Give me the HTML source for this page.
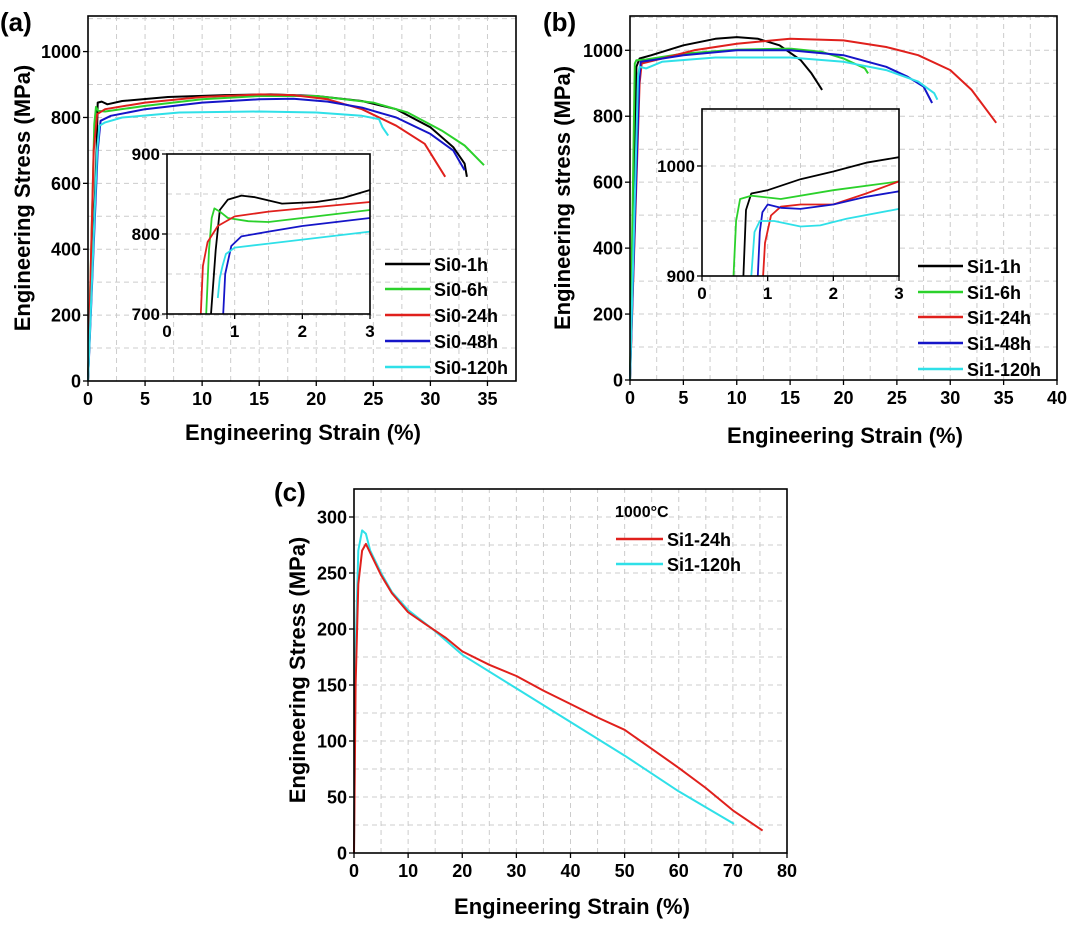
<!DOCTYPE html>
<html><head><meta charset="utf-8"><style>
body{margin:0;background:#fff}
svg{display:block;font-family:"Liberation Sans",Arial,sans-serif;font-weight:bold}
</style></head><body>
<svg id="s" width="1080" height="925" viewBox="0 0 1080 925" xmlns="http://www.w3.org/2000/svg">
<text x="0" y="31" font-size="26">(a)</text>
<text x="543" y="31" font-size="26">(b)</text>
<text x="274" y="501" font-size="26">(c)</text>
<text transform="translate(30,198) rotate(-90)" font-size="22" text-anchor="middle">Engineering Stress (MPa)</text>
<text x="303" y="440" font-size="22" text-anchor="middle">Engineering Strain (%)</text>
<text transform="translate(570,198) rotate(-90)" font-size="22" text-anchor="middle">Engineering stress (MPa)</text>
<text x="845" y="443" font-size="22" text-anchor="middle">Engineering Strain (%)</text>
<text transform="translate(305,670) rotate(-90)" font-size="22" text-anchor="middle">Engineering Stress (MPa)</text>
<text x="572" y="914" font-size="22" text-anchor="middle">Engineering Strain (%)</text>
</svg>
<script>
var S=document.getElementById('s'),NS='http://www.w3.org/2000/svg';
function el(t,a,txt){var e=document.createElementNS(NS,t);for(var k in a)e.setAttribute(k,a[k]);if(txt!=null)e.textContent=txt;S.appendChild(e);return e;}
function panel(p){
 var X=function(v){return p.x0+(v-p.xmin)*(p.x1-p.x0)/(p.xmax-p.xmin)};
 var Y=function(v){return p.y0-(v-p.ymin)*(p.y0-p.y1)/(p.ymax-p.ymin)};
 if(p.bg)el('rect',{x:p.x0,y:p.y1,width:p.x1-p.x0,height:p.y0-p.y1,fill:'#fff'});
 for(var g=p.xmin+p.gx;g<p.xmax-1e-9;g+=p.gx)el('line',{x1:X(g),x2:X(g),y1:p.y0,y2:p.y1,stroke:'#ccc','stroke-width':1,'stroke-dasharray':'5,4'});
 for(var g=p.ymin+p.gy;g<p.ymax-1e-9;g+=p.gy)el('line',{y1:Y(g),y2:Y(g),x1:p.x0,x2:p.x1,stroke:'#ccc','stroke-width':1,'stroke-dasharray':'5,4'});
 p.series.forEach(function(s){var d='';s[1].forEach(function(q,i){d+=(i?'L':'M')+X(q[0]).toFixed(1)+','+Y(q[1]).toFixed(1)});
  el('path',{d:d,fill:'none',stroke:s[0],'stroke-width':p.lw||2,'stroke-linejoin':'round'});});
 el('rect',{x:p.x0,y:p.y1,width:p.x1-p.x0,height:p.y0-p.y1,fill:'none',stroke:'#000','stroke-width':1.6});
 var fs=p.fs||18;
 p.xt.forEach(function(v){el('line',{x1:X(v),x2:X(v),y1:p.y0,y2:p.y0+5,stroke:'#000','stroke-width':1.3});el('text',{x:X(v),y:p.y0+fs+6,'font-size':fs,'text-anchor':'middle'},v)});
 p.yt.forEach(function(v){el('line',{x1:p.x0-5,x2:p.x0,y1:Y(v),y2:Y(v),stroke:'#000','stroke-width':1.3});el('text',{x:p.x0-7,y:Y(v)+fs*0.36,'font-size':fs,'text-anchor':'end'},v)});
}
var K='#000',G='#2bd12b',R='#e0201c',B='#1515c8',C='#2fe0e8';
panel({x0:88,x1:516,y0:381,y1:16,xmin:0,xmax:37.5,ymin:0,ymax:1108,gx:2.5,gy:100,xt:[0,5,10,15,20,25,30,35],yt:[0,200,400,600,800,1000],series:[
[K,[[0,0],[0.75,700],[0.85,845],[1.2,848],[1.7,840],[3,850],[7,862],[12,868],[16,870],[20,865],[24,850],[27,825],[30,770],[32,710],[33,660],[33.2,620]]],
[G,[[0,0],[0.55,780],[0.7,832],[0.9,820],[1.5,818],[5,835],[10,855],[15,865],[20,865],[25,845],[28,815],[31,760],[33,715],[34.7,655]]],
[R,[[0,0],[0.5,700],[0.8,810],[1.5,825],[5,845],[10,862],[15,870],[18,868],[21,855],[24,825],[27,775],[29.5,720],[31.3,620]]],
[B,[[0,0],[0.85,700],[1.1,790],[2,805],[5,825],[10,845],[15,855],[18,857],[21,848],[24,830],[27,800],[30,750],[32,700],[33,640]]],
[C,[[0,0],[0.8,700],[1,775],[1.5,785],[3,800],[8,815],[15,818],[20,815],[24,805],[25.5,795],[25.8,770],[26.3,745]]]]});
panel({bg:1,x0:167,x1:370,y0:314,y1:154,xmin:0,xmax:3,ymin:700,ymax:900,gx:0.5,gy:50,lw:1.8,fs:17,xt:[0,1,2,3],yt:[700,800,900],series:[
[K,[[0.65,700],[0.72,780],[0.78,830],[0.9,843],[1.1,848],[1.3,846],[1.7,838],[2.2,840],[2.6,845],[3,855]]],
[G,[[0.58,700],[0.62,780],[0.66,820],[0.7,832],[0.78,828],[0.9,820],[1.2,816],[1.5,815],[2,820],[3,830]]],
[R,[[0.5,700],[0.53,760],[0.6,790],[0.75,810],[1,822],[1.5,828],[2,832],[3,840]]],
[B,[[0.83,700],[0.86,750],[0.95,785],[1.1,797],[1.5,803],[2,810],[3,820]]],
[C,[[0.75,720],[0.78,745],[0.82,760],[0.87,775],[1,783],[1.5,788],[2,793],[3,803]]]]});
panel({x0:630,x1:1057,y0:380,y1:16,xmin:0,xmax:40,ymin:0,ymax:1104,gx:2.5,gy:100,xt:[0,5,10,15,20,25,30,35,40],yt:[0,200,400,600,800,1000],series:[
[K,[[0,0],[0.6,950],[0.9,975],[2,985],[5,1015],[8,1035],[10,1040],[12,1035],[14,1015],[16,970],[17,930],[18,880]]],
[G,[[0,0],[0.45,960],[0.6,970],[1.5,972],[5,990],[10,1002],[15,1005],[18,995],[20,975],[22,945],[22.3,930]]],
[R,[[0,0],[0.9,900],[1.1,960],[3,975],[6,1000],[10,1020],[15,1035],[20,1030],[24,1010],[27,985],[30,940],[32,880],[34.3,780]]],
[B,[[0,0],[0.85,900],[1,965],[2,970],[5,985],[10,1000],[15,1000],[20,985],[24,950],[26,920],[27.5,890],[28.3,840]]],
[C,[[0,0],[0.75,920],[0.9,950],[1.5,945],[3,965],[8,978],[15,978],[20,965],[24,940],[27,905],[28.5,870],[28.8,850]]]]});
panel({bg:1,x0:702,x1:899,y0:276,y1:109,xmin:0,xmax:3,ymin:900,ymax:1051.8,gx:0.5,gy:50,lw:1.8,fs:17,xt:[0,1,2,3],yt:[900,1000],series:[
[K,[[0.63,900],[0.67,960],[0.75,975],[1,978],[1.5,988],[2,995],[2.5,1003],[3,1008]]],
[G,[[0.48,900],[0.52,950],[0.58,970],[0.75,973],[1.2,970],[2,978],[3,986]]],
[R,[[0.93,900],[0.96,930],[1.05,955],[1.2,963],[1.5,965],[2,965],[2.5,975],[3,986]]],
[B,[[0.85,900],[0.88,940],[0.92,958],[1,965],[1.2,962],[1.5,961],[2,965],[2.5,972],[3,977]]],
[C,[[0.75,900],[0.8,940],[0.88,950],[1.1,950],[1.5,945],[1.8,946],[2.2,952],[3,961]]]]});
panel({x0:354,x1:787,y0:853,y1:489,xmin:0,xmax:80,ymin:0,ymax:325,gx:5,gy:25,xt:[0,10,20,30,40,50,60,70,80],yt:[0,50,100,150,200,250,300],series:[
[C,[[0,0],[0.3,180],[0.8,270],[1.5,288],[2.2,285],[3,270],[5,250],[7,233],[10,217],[15,198],[20,177],[30,147],[40,117],[50,87],[60,55],[70.2,26]]],
[R,[[0,0],[0.3,150],[0.8,240],[1.5,270],[2.2,276],[3,268],[5,248],[7,232],[10,215],[13,205],[17,192],[20,180],[25,168],[30,158],[35,145],[40,133],[45,121],[50,110],[55,93],[60,76],[65,58],[70,38],[75.5,20]]]]});
function leg(x1,x2,tx,rows){rows.forEach(function(r){el('line',{x1:x1,x2:x2,y1:r[2],y2:r[2],stroke:r[0],'stroke-width':2.5});el('text',{x:tx,y:r[2]+7,'font-size':18},r[1])});}
leg(385,430,434,[[K,'Si0-1h',264],[G,'Si0-6h',289],[R,'Si0-24h',315],[B,'Si0-48h',341],[C,'Si0-120h',367]]);
leg(918,963,967,[[K,'Si1-1h',266],[G,'Si1-6h',292],[R,'Si1-24h',317],[B,'Si1-48h',343],[C,'Si1-120h',369]]);
el('text',{x:615,y:517,'font-size':16},'1000°C');
leg(616,663,667,[[R,'Si1-24h',539],[C,'Si1-120h',564]]);
</script>
</body></html>
